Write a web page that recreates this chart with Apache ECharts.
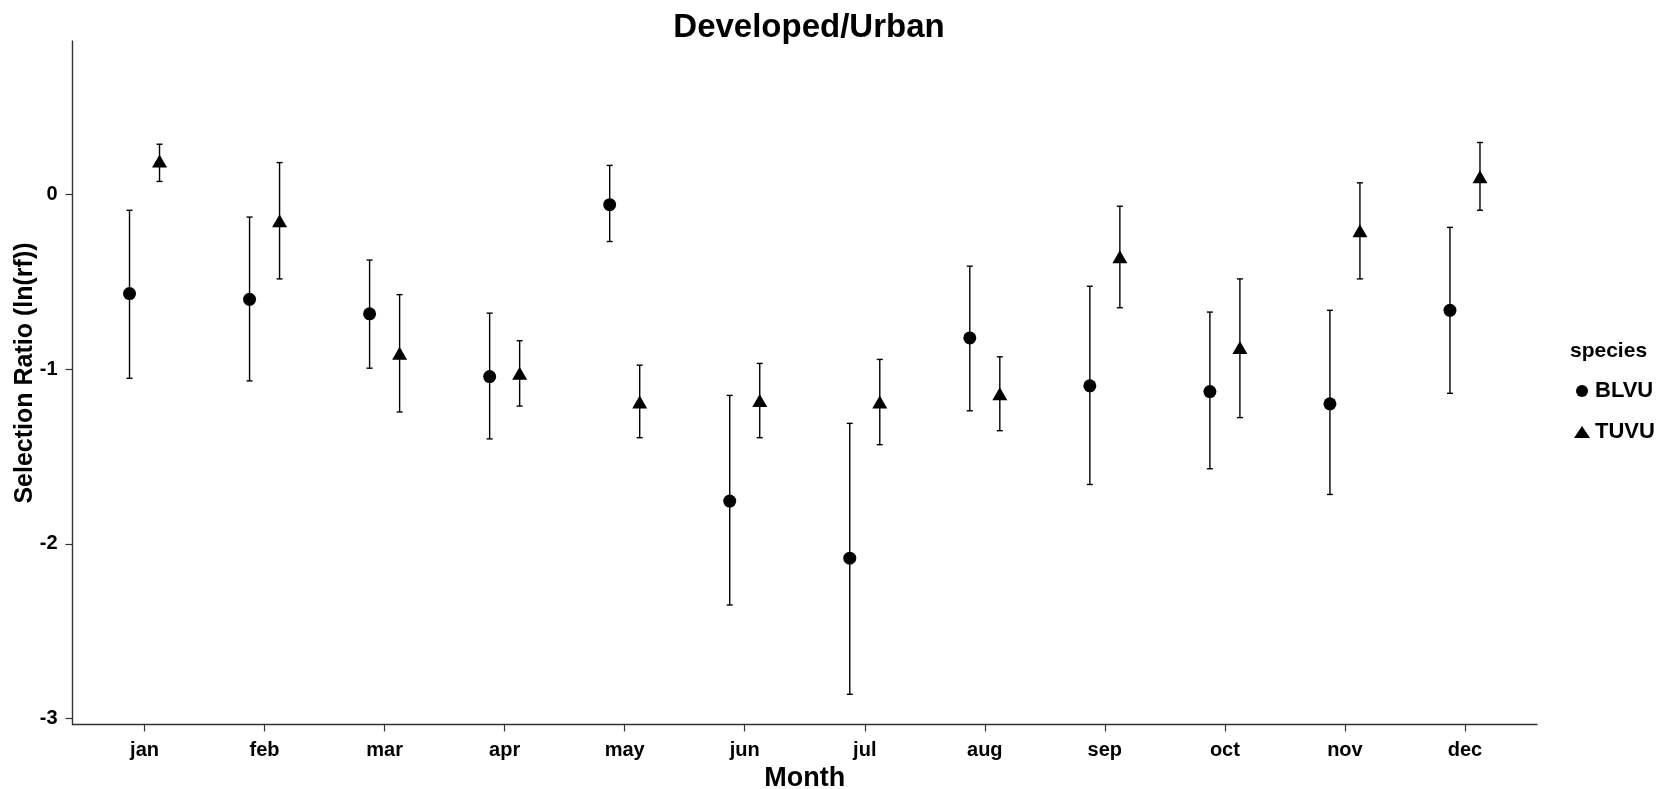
<!DOCTYPE html>
<html>
<head>
<meta charset="utf-8">
<title>Developed/Urban</title>
<script src="https://cdn.jsdelivr.net/npm/echarts@6/dist/echarts.min.js"></script>
<style>
  html, body { margin: 0; padding: 0; background: #fff; }
  #chart { width: 1677px; height: 789px; }
</style>
</head>
<body>
<div id="chart"></div>
<script>
// Monthly habitat selection ratios, ln(rf), with confidence limits
const months = ['jan', 'feb', 'mar', 'apr', 'may', 'jun', 'jul', 'aug', 'sep', 'oct', 'nov', 'dec'];

const blvuMean  = [-0.567, -0.600, -0.683, -1.042, -0.058, -1.755, -2.082, -0.821, -1.095, -1.128, -1.198, -0.663];
const blvuLower = [-1.052, -1.067, -0.994, -1.399, -0.269, -2.350, -2.861, -1.238, -1.660, -1.570, -1.717, -1.138];
const blvuUpper = [-0.090, -0.129, -0.375, -0.679,  0.167, -1.150, -1.310, -0.410, -0.525, -0.673, -0.663, -0.188];

const tuvuMean  = [ 0.192, -0.150, -0.908, -1.023, -1.188, -1.179, -1.188, -1.141, -0.356, -0.875, -0.208,  0.102];
const tuvuLower = [ 0.075, -0.483, -1.245, -1.211, -1.392, -1.392, -1.432, -1.352, -0.648, -1.277, -0.483, -0.090];
const tuvuUpper = [ 0.288,  0.183, -0.573, -0.837, -0.977, -0.967, -0.944, -0.929, -0.067, -0.483,  0.067,  0.298];

const yTicks = [-3, -2, -1, 0];

// side-by-side dodge within each month, and error-bar cap half width (in month units)
const DODGE = 0.125;
const CAP_HALF = 0.025;
const FONT = "'Liberation Sans', Arial, Helvetica, sans-serif";
const INK = '#000';

const monthIdx = months.map((_, i) => i);

function errorBars(name, lower, upper, offset) {
  return {
    name: name,
    type: 'custom',
    z: 2,
    silent: true,
    itemStyle: { color: INK },
    data: months.map((_, i) => [i, lower[i], upper[i]]),
    renderItem: function (params, api) {
      const x = api.value(0) + offset;
      const lo = api.value(1), hi = api.value(2);
      const pLo = api.coord([x, lo]);
      const pHi = api.coord([x, hi]);
      const cL = api.coord([x - CAP_HALF, lo])[0];
      const cR = api.coord([x + CAP_HALF, lo])[0];
      const style = { stroke: INK, lineWidth: 1.4 };
      return {
        type: 'group',
        children: [
          { type: 'line', shape: { x1: pLo[0], y1: pLo[1], x2: pHi[0], y2: pHi[1] }, style: style },
          { type: 'line', shape: { x1: cL, y1: pLo[1], x2: cR, y2: pLo[1] }, style: style },
          { type: 'line', shape: { x1: cL, y1: pHi[1], x2: cR, y2: pHi[1] }, style: style }
        ]
      };
    }
  };
}

function points(name, mean, offset, symbol, size) {
  return {
    name: name,
    type: 'scatter',
    z: 3,
    symbol: symbol,
    symbolSize: size,
    itemStyle: { color: INK, opacity: 1 },
    data: months.map((_, i) => [i + offset, mean[i]])
  };
}

const chart = echarts.init(document.getElementById('chart'), null, { renderer: 'canvas' });

chart.setOption({
  backgroundColor: '#fff',
  animation: false,
  color: [INK],
  textStyle: { fontFamily: FONT },
  title: [
    {
      text: 'Developed/Urban',
      left: 804,
      top: 6,
      textAlign: 'center',
      textStyle: { fontFamily: FONT, fontWeight: 'bold', fontSize: 33, color: INK }
    },
    {
      text: 'species',
      left: 1565,
      top: 336,
      textStyle: { fontFamily: FONT, fontWeight: 'bold', fontSize: 21, color: INK }
    }
  ],
  graphic: [
    {
      // y-axis title, rotated to read bottom-to-top
      type: 'text',
      x: 25,
      y: 373,
      rotation: Math.PI / 2,
      style: {
        text: 'Selection Ratio (ln(rf))',
        fill: INK,
        font: "bold 25px 'Liberation Sans', Arial, sans-serif",
        align: 'center',
        verticalAlign: 'middle'
      }
    }
  ],
  legend: {
    orient: 'vertical',
    left: 1569,
    top: 375,
    itemWidth: 16,
    itemHeight: 12,
    itemGap: 19,
    itemTextGap: 13,
    selectedMode: false,
    textStyle: { fontFamily: FONT, fontWeight: 'bold', fontSize: 22, color: INK },
    data: [
      { name: 'BLVU', icon: 'circle', itemStyle: { color: INK } },
      { name: 'TUVU', icon: 'triangle', itemStyle: { color: INK } }
    ]
  },
  grid: {
    left: 72.5,
    right: 140,
    top: 41,
    bottom: 64.5,
    outerBoundsMode: 'none'
  },
  xAxis: {
    type: 'value',
    min: -0.6,
    max: 11.6,
    name: 'Month',
    nameLocation: 'middle',
    nameGap: 35,
    nameTextStyle: { fontFamily: FONT, fontWeight: 'bold', fontSize: 27, color: INK },
    axisLine: { show: true, onZero: false, lineStyle: { color: '#333', width: 1.4 } },
    axisTick: { show: true, length: 7, customValues: monthIdx, lineStyle: { color: '#333', width: 1.2 } },
    axisLabel: {
      customValues: monthIdx,
      margin: 16,
      formatter: v => months[Math.round(v)],
      fontFamily: FONT, fontWeight: 'bold', fontSize: 20, color: INK
    },
    splitLine: { show: false }
  },
  yAxis: {
    type: 'value',
    min: -3.034,
    max: 0.879,
    axisLine: { show: true, onZero: false, lineStyle: { color: '#333', width: 1.4 } },
    axisTick: { show: true, length: 7, customValues: yTicks, lineStyle: { color: '#333', width: 1.2 } },
    axisLabel: {
      customValues: yTicks,
      margin: 15,
      fontFamily: FONT, fontWeight: 'bold', fontSize: 20, color: INK
    },
    splitLine: { show: false }
  },
  series: [
    errorBars('BLVU', blvuLower, blvuUpper, -DODGE),
    errorBars('TUVU', tuvuLower, tuvuUpper, DODGE),
    points('BLVU', blvuMean, -DODGE, 'circle', 13),
    points('TUVU', tuvuMean, DODGE, 'triangle', [15, 13])
  ]
});
</script>
</body>
</html>
